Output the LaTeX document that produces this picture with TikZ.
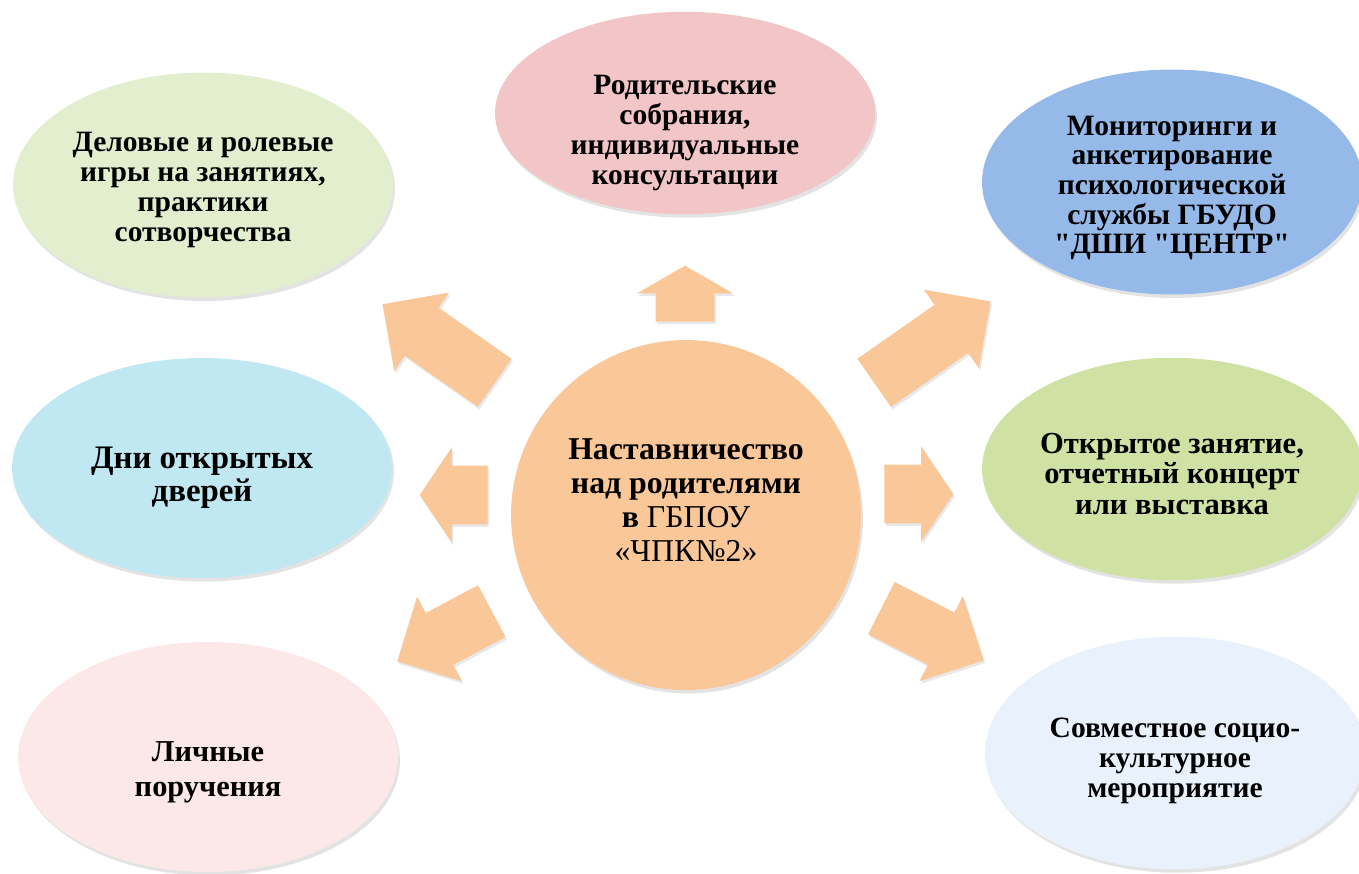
\documentclass[tikz,border=0pt]{standalone}
\usepackage{fontspec}
\setmainfont{Liberation Serif}[Ligatures=TeXOff]
\usepackage{xcolor}
\usetikzlibrary{positioning,calc,shapes.geometric,shapes.arrows,shadows}
\definecolor{peach}{HTML}{FAC898}
\definecolor{leafg}{HTML}{E2EECE}
\definecolor{rosec}{HTML}{F2C5C6}
\definecolor{skyb}{HTML}{95B9E8}
\definecolor{aquac}{HTML}{C0E8F2}
\definecolor{limeg}{HTML}{D0E1A4}
\definecolor{blush}{HTML}{FCE8E9}
\definecolor{icebl}{HTML}{E8F1FC}
\tikzset{
  topic/.style  = {ellipse, inner sep=0pt, minimum width=7.6cm,
                   minimum height=4.5cm,
                   drop shadow={opacity=0.22, shadow xshift=0.04cm,
                                shadow yshift=-0.07cm}},
  ttxt/.style   = {align=center, inner sep=0pt,
                   font=\fontsize{16.8}{16.9}\selectfont\bfseries},
  hub/.style    = {circle, fill=peach, inner sep=0pt, minimum size=7cm,
                   drop shadow={opacity=0.22, shadow xshift=0.04cm,
                                shadow yshift=-0.07cm}},
  hubtxt/.style = {align=center, font=\fontsize{18.1}{19.5}\selectfont},
  spoke/.style  = {single arrow, fill=peach, inner xsep=0pt,
                   inner ysep=0.58cm, single arrow head extend=0.37cm,
                   anchor=tail,
                   drop shadow={opacity=0.18, shadow xshift=0.03cm,
                                shadow yshift=-0.05cm}},
}

\begin{document}
\begin{tikzpicture}[x=0.02cm, y=-0.02cm]
\useasboundingbox (0,0) rectangle (1359,873);
% ---- outer topics ----
\node[topic, fill=leafg] (games) at (203,185) {};
\node[topic, fill=rosec, minimum height=4.05cm] (meet) at (685,113) {};
\node[topic, fill=skyb] (monit) at (1172,182) {};
\node[topic, fill=aquac, minimum height=4.4cm] (days) at (202,468) {};
\node[topic, fill=limeg, minimum height=4.45cm] (show) at (1172,469) {};
\node[topic, fill=blush, minimum height=4.6cm] (tasks) at (208,757) {};
\node[topic, fill=icebl, minimum height=4.65cm] (event) at (1175,753) {};
% ---- topic texts ----
\node[ttxt] (gamesT) at ([yshift=-0.1cm]games.center)
  {Деловые и ролевые\\ игры на занятиях,\\ практики\\ сотворчества};
\node[ttxt] (meetT) at ([yshift=-0.4cm]meet.center)
  {Родительские\\ собрания,\\ индивидуальные\\ консультации};
\node[ttxt] (monitT) at ([yshift=-0.12cm]monit.center)
  {Мониторинги и\\ анкетирование\\ психологической\\ службы ГБУДО\\ "ДШИ "ЦЕНТР"};
\node[ttxt, font=\fontsize{18.7}{18.8}\selectfont\bfseries] (daysT)
  at ([yshift=-0.2cm]days.center) {Дни открытых\\ дверей};
\node[ttxt, font=\fontsize{17.4}{17.5}\selectfont\bfseries] (showT)
  at ([yshift=-0.1cm]show.center)
  {Открытое занятие,\\ отчетный концерт\\ или выставка};
\node[ttxt, font=\fontsize{17.3}{19.9}\selectfont\bfseries] (tasksT)
  at ([yshift=-0.3cm]tasks.center) {Личные\\ поручения};
\node[ttxt] (eventT) at ([yshift=-0.16cm]event.center)
  {Совместное социо-\\ культурное\\ мероприятие};
% ---- center ----
\node[hub] (hub) at (686,515) {};
\node[hubtxt] (hubT) at ([yshift=0.3cm]hub.center)
  {\textbf{Наставничество}\\ \textbf{над родителями}\\ \textbf{в} ГБПОУ\\ «ЧПК№2»};
% ---- block arrows ----
\node[spoke, rotate=90, minimum height=1.12cm, single arrow tip angle=120] (aN) at (685,322) {};
\node[spoke, rotate=145, minimum height=2.74cm] (aNW) at (495,383) {};
\node[spoke, rotate=35, minimum height=2.84cm] (aNE) at (874,383) {};
\node[spoke, rotate=180, minimum height=1.36cm, single arrow tip angle=112] (aW) at (488,495) {};
\node[spoke, rotate=0, minimum height=1.38cm, single arrow tip angle=112] (aE) at (884,494) {};
\node[spoke, rotate=208, minimum height=2.14cm] (aSW) at (492,611) {};
\node[spoke, rotate=-27, minimum height=2.3cm] (aSE) at (881,608) {};
\end{tikzpicture}
\end{document}
